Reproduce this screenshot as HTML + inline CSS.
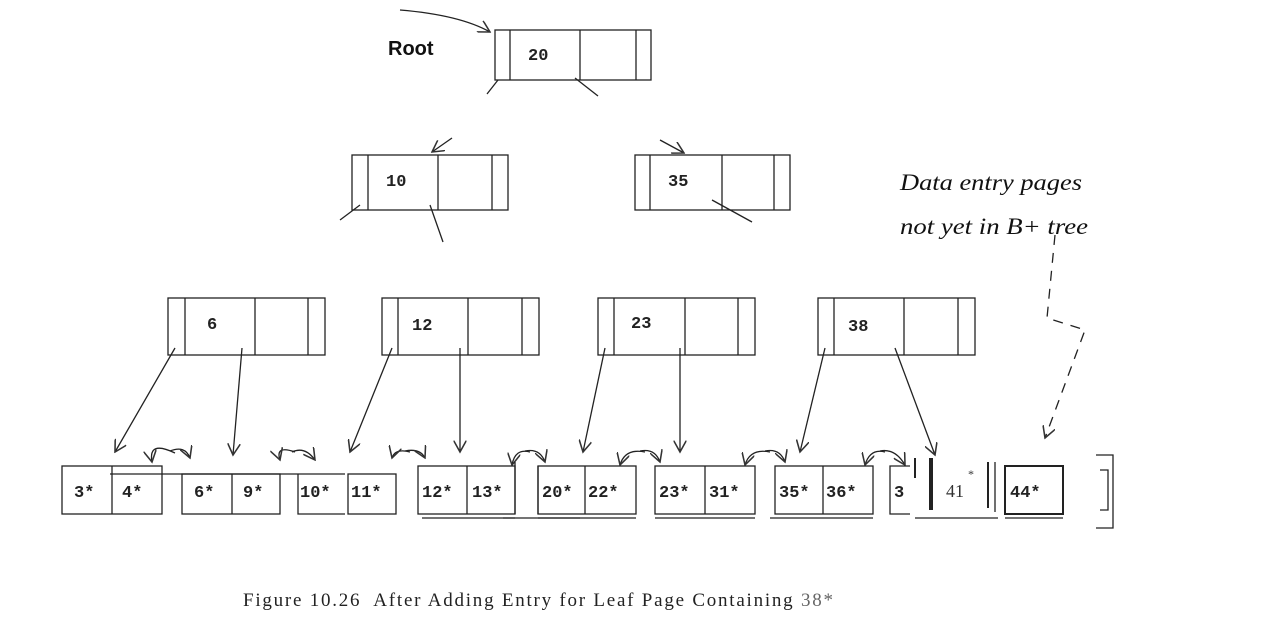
<!DOCTYPE html>
<html><head><meta charset="utf-8"><style>
html,body{margin:0;padding:0;background:#fff;}
svg{display:block}
.m{font-family:"Liberation Mono",monospace;font-weight:bold;font-size:17px;fill:#222}
</style></head><body>
<svg width="1282" height="636" viewBox="0 0 1282 636" xmlns="http://www.w3.org/2000/svg">
<defs><marker id="a" markerWidth="10" markerHeight="10" refX="9" refY="5" orient="auto"><path d="M0,0 L9,5 L0,10" fill="none" stroke="#333" stroke-width="1.2"/></marker></defs>
<g fill="none" stroke="#222" stroke-width="1.3">
<rect x="495" y="30" width="156" height="50"/><line x1="510" y1="30" x2="510" y2="80"/><line x1="580" y1="30" x2="580" y2="80"/><line x1="636" y1="30" x2="636" y2="80"/>
<path d="M400,10 Q460,15 490,32" marker-end="url(#a)"/>
<line x1="498" y1="80" x2="487" y2="94"/><line x1="575" y1="78" x2="598" y2="96"/>
<rect x="352" y="155" width="156" height="55"/><line x1="368" y1="155" x2="368" y2="210"/><line x1="438" y1="155" x2="438" y2="210"/><line x1="492" y1="155" x2="492" y2="210"/>
<rect x="635" y="155" width="155" height="55"/><line x1="650" y1="155" x2="650" y2="210"/><line x1="722" y1="155" x2="722" y2="210"/><line x1="774" y1="155" x2="774" y2="210"/>
<line x1="452" y1="138" x2="432" y2="152" marker-end="url(#a)"/><line x1="660" y1="140" x2="684" y2="153" marker-end="url(#a)"/>
<line x1="360" y1="205" x2="340" y2="220"/><line x1="430" y1="205" x2="443" y2="242"/><line x1="712" y1="200" x2="752" y2="222"/>
<rect x="168" y="298" width="157" height="57"/><line x1="185" y1="298" x2="185" y2="355"/><line x1="255" y1="298" x2="255" y2="355"/><line x1="308" y1="298" x2="308" y2="355"/>
<rect x="382" y="298" width="157" height="57"/><line x1="398" y1="298" x2="398" y2="355"/><line x1="468" y1="298" x2="468" y2="355"/><line x1="522" y1="298" x2="522" y2="355"/>
<rect x="598" y="298" width="157" height="57"/><line x1="614" y1="298" x2="614" y2="355"/><line x1="685" y1="298" x2="685" y2="355"/><line x1="738" y1="298" x2="738" y2="355"/>
<rect x="818" y="298" width="157" height="57"/><line x1="834" y1="298" x2="834" y2="355"/><line x1="904" y1="298" x2="904" y2="355"/><line x1="958" y1="298" x2="958" y2="355"/>
<line x1="175" y1="348" x2="115" y2="452" marker-end="url(#a)"/>
<line x1="242" y1="348" x2="233" y2="455" marker-end="url(#a)"/>
<line x1="392" y1="348" x2="350" y2="452" marker-end="url(#a)"/>
<line x1="460" y1="348" x2="460" y2="452" marker-end="url(#a)"/>
<line x1="605" y1="348" x2="583" y2="452" marker-end="url(#a)"/>
<line x1="680" y1="348" x2="680" y2="452" marker-end="url(#a)"/>
<line x1="825" y1="348" x2="800" y2="452" marker-end="url(#a)"/>
<line x1="895" y1="348" x2="935" y2="455" marker-end="url(#a)"/>
<path d="M175,453 Q148,440 152,462" marker-end="url(#a)"/><path d="M170,451 Q185,445 190,458" marker-end="url(#a)"/>
<path d="M295,452 Q275,445 280,460" marker-end="url(#a)"/><path d="M292,452 Q305,446 315,460" marker-end="url(#a)"/>
<path d="M410,452 Q395,448 392,458" marker-end="url(#a)"/><path d="M405,451 Q420,448 425,458" marker-end="url(#a)"/>
<path d="M530,452 Q515,448 512,465" marker-end="url(#a)"/><path d="M525,451 Q540,448 545,462" marker-end="url(#a)"/>
<path d="M645,452 Q625,448 620,465" marker-end="url(#a)"/><path d="M640,451 Q655,448 660,462" marker-end="url(#a)"/>
<path d="M770,452 Q750,448 745,465" marker-end="url(#a)"/><path d="M765,451 Q780,448 785,462" marker-end="url(#a)"/>
<path d="M885,452 Q870,448 865,465" marker-end="url(#a)"/><path d="M880,451 Q895,448 905,465" marker-end="url(#a)"/>
<rect x="62" y="466" width="100" height="48"/><line x1="112" y1="466" x2="112" y2="514"/>
<line x1="110" y1="474" x2="345" y2="474"/>
<rect x="182" y="474" width="98" height="40"/><line x1="232" y1="474" x2="232" y2="514"/>
<path d="M298,474 V514 H345"/><rect x="348" y="474" width="48" height="40"/>
<rect x="418" y="466" width="97" height="48"/><line x1="467" y1="466" x2="467" y2="514"/><line x1="422" y1="518" x2="515" y2="518"/>
<path d="M515,462 V514 M503,518 H580 M538,466 V514"/>
<rect x="538" y="466" width="98" height="48"/><line x1="585" y1="466" x2="585" y2="514"/><line x1="538" y1="518" x2="636" y2="518"/>
<rect x="655" y="466" width="100" height="48"/><line x1="705" y1="466" x2="705" y2="514"/><line x1="655" y1="518" x2="755" y2="518"/>
<rect x="775" y="466" width="98" height="48"/><line x1="823" y1="466" x2="823" y2="514"/><line x1="770" y1="518" x2="873" y2="518"/>
<path d="M910,466 H890 V514 H910"/>
<line x1="915" y1="458" x2="915" y2="478" stroke-width="2"/><line x1="931" y1="458" x2="931" y2="510" stroke-width="4"/>
<line x1="915" y1="518" x2="998" y2="518"/><line x1="988" y1="462" x2="988" y2="508" stroke-width="2"/><line x1="995" y1="462" x2="995" y2="512"/>
<rect x="1005" y="466" width="58" height="48" stroke-width="2"/><line x1="1005" y1="518" x2="1063" y2="518"/>
<path d="M1096,455 H1113 V528 H1096 M1100,470 H1108 V510 H1100"/>
<path d="M1055,235 L1047,318 L1085,330 L1045,438" stroke-dasharray="10,8" marker-end="url(#a)"/>
</g>
<text x="388" y="55" font-family="Liberation Sans,sans-serif" font-weight="bold" font-size="20" fill="#111">Root</text>
<text class="m" x="528" y="60">20</text>
<text class="m" x="386" y="186">10</text>
<text class="m" x="668" y="186">35</text>
<text class="m" x="207" y="329">6</text>
<text class="m" x="412" y="330">12</text>
<text class="m" x="631" y="328">23</text>
<text class="m" x="848" y="331">38</text>
<g class="m">
<text x="74" y="497">3*</text><text x="122" y="497">4*</text>
<text x="194" y="497">6*</text><text x="243" y="497">9*</text>
<text x="300" y="497">10*</text><text x="351" y="497">11*</text>
<text x="422" y="497">12*</text><text x="472" y="497">13*</text>
<text x="542" y="497">20*</text><text x="588" y="497">22*</text>
<text x="659" y="497">23*</text><text x="709" y="497">31*</text>
<text x="779" y="497">35*</text><text x="826" y="497">36*</text>
<text x="894" y="497">3</text>
<text x="1010" y="497">44*</text>
</g>
<text x="946" y="497" font-family="Liberation Serif,serif" font-size="18" fill="#333">41</text>
<text x="968" y="478" font-family="Liberation Serif,serif" font-size="12" fill="#333">*</text>
<text x="900" y="190" font-family="Liberation Serif,serif" font-style="italic" font-size="23" fill="#111" textLength="182" lengthAdjust="spacingAndGlyphs">Data entry pages</text>
<text x="900" y="234" font-family="Liberation Serif,serif" font-style="italic" font-size="23" fill="#111" textLength="188" lengthAdjust="spacingAndGlyphs">not yet in B+ tree</text>
<text x="243" y="606" font-family="Liberation Serif,serif" font-size="19" fill="#222" textLength="590" lengthAdjust="spacing" xml:space="preserve">Figure 10.26  After Adding Entry for Leaf Page Containing <tspan fill="#666">38*</tspan></text>
</svg>
</body></html>
